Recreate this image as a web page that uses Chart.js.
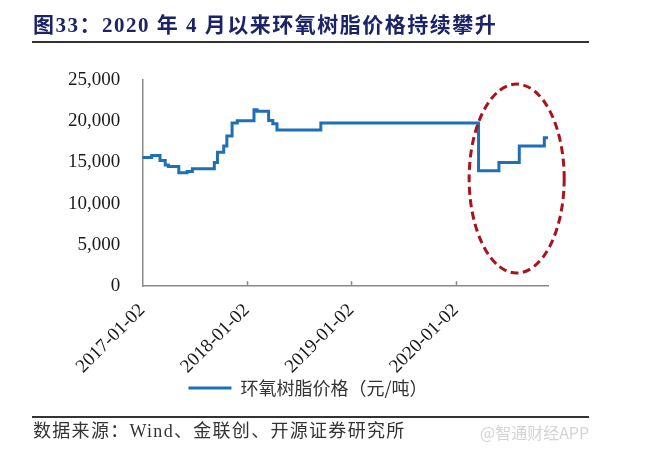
<!DOCTYPE html>
<html>
<head>
<meta charset="utf-8">
<script src="https://cdn.jsdelivr.net/npm/chart.js@4.4.1/dist/chart.umd.min.js"></script>
<style>
  html, body { margin: 0; padding: 0; background: #fff; }
  #wrap { position: relative; width: 659px; height: 451px; overflow: hidden; }
  #c { position: absolute; left: 0; top: 0; }
  .title { position: absolute; left: 33px; top: 12px; font-family: "Liberation Serif", "Noto Sans CJK SC", serif; font-weight: bold; font-size: 21px; letter-spacing: 1.5px; color: #1c2366; white-space: nowrap; line-height: 26px; }
  .rule { position: absolute; left: 32px; width: 557px; height: 2px; background: #333; }
  .source { position: absolute; left: 33px; top: 420px; font-family: "Liberation Serif", "Noto Sans CJK SC", serif; font-size: 18px; letter-spacing: 1.3px; color: #333; white-space: nowrap; line-height: 22px; }
  .wm { position: absolute; left: 480px; top: 422px; font-family: "Noto Sans CJK SC", sans-serif; font-size: 16px; color: #d4d4d4; white-space: nowrap; line-height: 20px; }
</style>
</head>
<body>
<div id="wrap">
  <canvas id="c" width="659" height="451"></canvas>
  <div class="title">图33：2020 年 4 月以来环氧树脂价格持续攀升</div>
  <div class="rule" style="top:41px"></div>
  <div class="rule" style="top:416px"></div>
  <div class="source">数据来源：Wind、金联创、开源证券研究所</div>
  <div class="wm">@智通财经APP</div>
</div>
<script>
// ---- data (x = decimal year of each price change, y = new price, 元/吨) ----
const seriesName = '环氧树脂价格（元/吨）';
const changeTimes = [2017.00, 2017.09, 2017.17, 2017.22, 2017.25, 2017.35, 2017.43, 2017.48,
                     2017.69, 2017.72, 2017.78, 2017.81, 2017.86, 2017.91, 2018.07, 2018.10,
                     2018.21, 2018.25, 2018.29, 2018.71, 2020.22, 2020.415, 2020.61, 2020.85, 2020.885];
const prices      = [15600, 15850, 15250, 14700, 14500, 13750, 13900, 14250,
                     15000, 16250, 17000, 18200, 19800, 20050, 21400, 21200,
                     20100, 19700, 18950, 19800, 14000, 15000, 17000, 18000, 18000];
const xTickValues = [2017, 2018, 2019, 2020];
const xTickLabels = ['2017-01-02', '2018-01-02', '2019-01-02', '2020-01-02'];
const yTickValues = [0, 5000, 10000, 15000, 20000, 25000];
// highlighted region (in data units)
const ellipseX = [2020.13, 2021.04];
const ellipseY = [1600, 24500];

const lineColor = '#1f6fb5';
const axisColor = '#8a8a8a';

const points = changeTimes.map((t, i) => ({ x: t, y: prices[i] }));

const innerTicks = {
  id: 'innerTicks',
  afterDraw(chart) {
    const xs = chart.scales.x, ctx = chart.ctx, b = chart.chartArea.bottom;
    ctx.save();
    ctx.strokeStyle = axisColor; ctx.lineWidth = 1.5;
    xTickValues.slice(1).forEach(v => {
      const px = Math.round(xs.getPixelForValue(v)) + 0.5;
      ctx.beginPath(); ctx.moveTo(px, b); ctx.lineTo(px, b - 5); ctx.stroke();
    });
    ctx.restore();
  }
};

const legendShift = {
  id: 'legendShift',
  afterLayout(chart) {
    const lg = chart.legend;
    if (lg) { lg.left += 11; lg.right += 11; }
  }
};

const ellipsePlugin = {
  id: 'ellipse',
  afterDatasetsDraw(chart) {
    const xs = chart.scales.x, ys = chart.scales.y, ctx = chart.ctx;
    const x1 = xs.getPixelForValue(ellipseX[0]), x2 = xs.getPixelForValue(ellipseX[1]);
    const y1 = ys.getPixelForValue(ellipseY[1]), y2 = ys.getPixelForValue(ellipseY[0]);
    ctx.save();
    ctx.strokeStyle = '#a8141c'; ctx.lineWidth = 3;
    ctx.setLineDash([8, 4.5]);
    ctx.beginPath();
    ctx.ellipse((x1 + x2) / 2, (y1 + y2) / 2, (x2 - x1) / 2, (y2 - y1) / 2, 0, 0, Math.PI * 2);
    ctx.stroke();
    ctx.restore();
  }
};

new Chart(document.getElementById('c'), {
  type: 'line',
  data: {
    datasets: [{
      label: seriesName,
      data: points,
      borderColor: lineColor,
      backgroundColor: lineColor,
      borderWidth: 3,
      pointRadius: 0,
      stepped: true,
      fill: false
    }]
  },
  options: {
    responsive: false,
    animation: false,
    layout: { padding: { left: 46, right: 111, top: 80, bottom: 44 } },
    plugins: {
      legend: {
        position: 'bottom',
        labels: {
          boxWidth: 43, boxHeight: 3, padding: 4,
          color: '#333',
          font: { family: 'Noto Sans CJK SC', size: 18 },
          generateLabels: (chart) => Chart.defaults.plugins.legend.labels.generateLabels(chart)
            .map(l => Object.assign(l, { lineWidth: 0, fillStyle: lineColor, strokeStyle: lineColor }))
        }
      },
      tooltip: { enabled: false }
    },
    scales: {
      x: {
        type: 'linear',
        min: changeTimes[0],
        max: changeTimes[changeTimes.length - 1],
        afterBuildTicks: (s) => { s.ticks = xTickValues.map(v => ({ value: v })); },
        afterFit: (s) => { s.height = s.height - 16; },
        grid: { display: false, drawTicks: false },
        border: { display: true, color: axisColor, width: 1.5 },
        ticks: {
          autoSkip: false, minRotation: 45, maxRotation: 45, padding: 13,
          color: '#1a1a1a',
          font: { family: 'Liberation Serif', size: 19 },
          callback: (v) => xTickLabels[xTickValues.indexOf(v)]
        }
      },
      y: {
        min: yTickValues[0],
        max: yTickValues[yTickValues.length - 1],
        afterBuildTicks: (s) => { s.ticks = yTickValues.map(v => ({ value: v })); },
        grid: { display: false, drawTicks: false },
        border: { display: true, color: axisColor, width: 1.5 },
        ticks: {
          padding: 22,
          color: '#1a1a1a',
          font: { family: 'Liberation Serif', size: 19 },
          callback: (v) => v.toLocaleString('en-US')
        }
      }
    }
  },
  plugins: [innerTicks, legendShift, ellipsePlugin]
});
</script>
</body>
</html>
